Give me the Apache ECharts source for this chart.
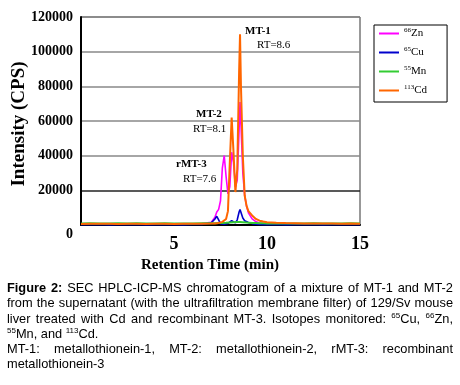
<!DOCTYPE html>
<html>
<head>
<meta charset="utf-8">
<script src="https://cdn.jsdelivr.net/npm/echarts@6/dist/echarts.min.js"></script>
<style>
  html, body { margin: 0; padding: 0; background: #fff; }
  #chart { position: absolute; left: 0; top: 0; width: 460px; height: 385px; }
  #caption {
    position: absolute; left: 7px; top: 280px; width: 446px;
    font-family: 'Liberation Sans', Arial, sans-serif; font-size: 12.8px;
    line-height: 15.3px; color: #000;
  }
  #caption .j { text-align: justify; text-align-last: justify; white-space: nowrap; }
  #caption sup { font-size: 8px; line-height: 0; vertical-align: 5px; }
</style>
</head>
<body>
<div id="chart"></div>
<div id="caption">
  <div class="j"><b>Figure 2:</b> SEC HPLC-ICP-MS chromatogram of a mixture of MT-1 and MT-2</div>
  <div class="j">from the supernatant (with the ultrafiltration membrane filter) of 129/Sv mouse</div>
  <div class="j">liver treated with Cd and recombinant MT-3. Isotopes monitored: <sup>65</sup>Cu, <sup>66</sup>Zn,</div>
  <div><sup>55</sup>Mn, and <sup>113</sup>Cd.</div>
  <div class="j">MT-1: metallothionein-1, MT-2: metallothionein-2, rMT-3: recombinant</div>
  <div>metallothionein-3</div>
</div>
<script>
// retention time (min)
var times = [0, 0.5, 1, 1.5, 2, 2.5, 3, 3.5, 4, 4.5, 5, 5.5, 6, 6.5,
  7, 7.2, 7.3, 7.4, 7.5, 7.6, 7.7, 7.8, 7.9,
  8.0, 8.1, 8.2, 8.3, 8.4, 8.5, 8.55, 8.6, 8.7, 8.8, 8.9,
  9.0, 9.2, 9.4, 9.6, 9.8,
  10, 10.5, 11, 11.5, 12, 12.5, 13, 13.5, 14, 14.5, 15];

// intensities (CPS)
var zn66 = [700, 650, 750, 600, 700, 650, 700, 600, 650, 700, 600, 700, 650, 900,
  1500, 4500, 7500, 9000, 14000, 33000, 40000, 28000, 18000,
  22000, 42000, 36000, 22000, 26000, 55000, 71000, 58000, 30000, 17000, 11000,
  7000, 3500, 2000, 1200, 900,
  800, 700, 750, 650, 700, 600, 700, 650, 700, 650, 700];
var cu65 = [200, 150, 250, 100, 200, 150, 250, 100, 200, 150, 200, 100, 250, 300,
  1200, 3500, 5000, 3000, 800, 400, 500, 600, 900,
  1500, 2500, 2900, 1200, 3000, 7500, 9000, 8000, 4000, 2500, 2000,
  1500, 800, 500, 300, 200,
  150, 250, 100, 200, 150, 250, 100, 200, 150, 250, 200];
var mn55 = [900, 950, 850, 900, 1000, 900, 950, 850, 900, 950, 900, 850, 900, 950,
  1000, 1000, 1100, 1100, 1200, 1200, 1300, 1300, 1400,
  1500, 1500, 1600, 1600, 1700, 1700, 1700, 1700, 1600, 1500, 1400,
  1300, 1200, 1100, 1000, 950,
  900, 950, 900, 850, 900, 950, 900, 850, 900, 950, 900];
var cd113 = [600, 700, 650, 700, 600, 650, 700, 600, 650, 700, 600, 650, 700, 700,
  800, 900, 1000, 1200, 1500, 1800, 2200, 3500, 8000,
  36000, 62000, 42000, 19000, 32000, 88000, 110000, 80000, 40000, 17000, 11000,
  8000, 5500, 3500, 2500, 2000,
  1600, 1300, 1100, 1000, 900, 850, 800, 800, 750, 800, 750];

var names = ['Zn', 'Cu', 'Mn', 'Cd'];
var isotopes = { Zn: '66', Cu: '65', Mn: '55', Cd: '113' };
var colors = ['#ff00ff', '#0000cc', '#33cc33', '#ff6600'];
var yTicks = [0, 20000, 40000, 60000, 80000, 100000, 120000];

var serif = "'Liberation Serif', 'Times New Roman', serif";

function pairs(vals) {
  return times.map(function (t, i) { return [t, vals[i]]; });
}

var allData = [zn66, cu65, mn55, cd113];
var widths = [1.6, 1.6, 2, 2];

var chart = echarts.init(document.getElementById('chart'));
var option = {
  animation: false,
  color: colors,
  grid: { left: 81, right: 100, top: 17, bottom: 160, show: true, borderColor: '#333', borderWidth: 1 },
  legend: {
    orient: 'vertical', left: 374, top: 25,
    padding: [2, 20, 6, 5], itemGap: 7, itemWidth: 20, itemHeight: 2,
    icon: 'rect',
    borderColor: '#000', borderWidth: 1,
    data: names,
    formatter: function (n) { return '{s|' + isotopes[n] + '}' + n; },
    textStyle: {
      fontFamily: serif, fontSize: 11, color: '#000',
      rich: { s: { fontFamily: serif, fontSize: 7, padding: [0, 0, 6, 0] } }
    }
  },
  xAxis: {
    type: 'value', min: 0, max: 15, interval: 5,
    axisLine: { lineStyle: { color: '#000', width: 2 } },
    axisTick: { show: false },
    splitLine: { show: false },
    axisLabel: {
      fontFamily: serif, fontWeight: 'bold', fontSize: 18, color: '#000', margin: 10,
      formatter: function (v) { return v === 0 ? '' : v; }
    }
  },
  yAxis: {
    type: 'value', min: yTicks[0], max: yTicks[yTicks.length - 1], interval: 20000,
    axisLine: { show: true, lineStyle: { color: '#000', width: 2 } },
    axisTick: { show: false },
    splitLine: { lineStyle: { color: ['#222', '#222', '#888', '#888', '#888', '#888', '#888'], width: 1.5 } },
    axisLabel: {
      fontFamily: serif, fontWeight: 'bold', fontSize: 14, color: '#000', margin: 8,
      formatter: function (v) { return v === 0 ? '{z|0}' : String(v); },
      rich: { z: { fontFamily: serif, fontWeight: 'bold', fontSize: 14, padding: [18, 0, 0, 0] } }
    }
  },
  series: names.map(function (n, i) {
    return {
      name: n, type: 'line', symbol: 'none',
      lineStyle: { width: widths[i] },
      data: pairs(allData[i])
    };
  }),
  graphic: [
    { type: 'text', x: 19, y: 124, rotation: Math.PI / 2,
      style: { text: 'Intensity (CPS)', fontFamily: serif, fontWeight: 'bold', fontSize: 19, fill: '#000', align: 'center', verticalAlign: 'middle' } },
    { type: 'text', x: 210, y: 265,
      style: { text: 'Retention Time (min)', fontFamily: serif, fontWeight: 'bold', fontSize: 15, fill: '#000', align: 'center', verticalAlign: 'middle' } },
    { type: 'text', x: 245, y: 31,
      style: { text: 'MT-1', fontFamily: serif, fontWeight: 'bold', fontSize: 11, fill: '#000', verticalAlign: 'middle' } },
    { type: 'text', x: 257, y: 45,
      style: { text: 'RT=8.6', fontFamily: serif, fontSize: 11, fill: '#000', verticalAlign: 'middle' } },
    { type: 'text', x: 196, y: 114,
      style: { text: 'MT-2', fontFamily: serif, fontWeight: 'bold', fontSize: 11, fill: '#000', verticalAlign: 'middle' } },
    { type: 'text', x: 193, y: 129,
      style: { text: 'RT=8.1', fontFamily: serif, fontSize: 11, fill: '#000', verticalAlign: 'middle' } },
    { type: 'text', x: 176, y: 164,
      style: { text: 'rMT-3', fontFamily: serif, fontWeight: 'bold', fontSize: 11, fill: '#000', verticalAlign: 'middle' } },
    { type: 'text', x: 183, y: 179,
      style: { text: 'RT=7.6', fontFamily: serif, fontSize: 11, fill: '#000', verticalAlign: 'middle' } }
  ]
};
chart.setOption(option);
</script>
</body>
</html>
